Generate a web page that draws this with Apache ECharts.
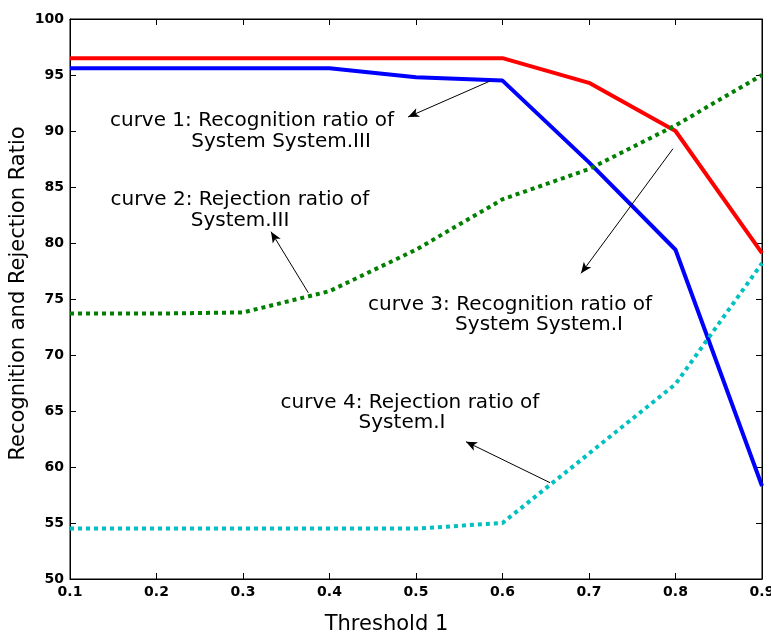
<!DOCTYPE html>
<html>
<head>
<meta charset="utf-8">
<script src="https://cdn.jsdelivr.net/npm/echarts@6/dist/echarts.min.js"></script>
<style>html,body{margin:0;padding:0;background:#fff;}#c{width:771px;height:636px;}</style>
</head>
<body>
<div id="c"></div>
<script>
// Data
const thresholds = [0.1, 0.2, 0.3, 0.4, 0.5, 0.6, 0.7, 0.8, 0.9];
const curve1RecogSysIII = [95.6, 95.6, 95.6, 95.6, 94.8, 94.5, 87.2, 79.4, 58.3];
const curve2RejectSysIII = [73.7, 73.7, 73.8, 75.7, 79.4, 83.9, 86.6, 90.5, 95.0];
const curve3RecogSysI = [96.5, 96.5, 96.5, 96.5, 96.5, 96.5, 94.3, 90.0, 79.1];
const curve4RejectSysI = [54.5, 54.5, 54.5, 54.5, 54.5, 55.0, 61.2, 67.4, 78.2];
const yTicks = [50, 55, 60, 65, 70, 75, 80, 85, 90, 95, 100];
const xTickLabels = ['0.1','0.2','0.3','0.4','0.5','0.6','0.7','0.8','0.9'];

// annotation arrows [from, to] in data coordinates
const arrows = [
  [[0.5856, 94.46], [0.4908, 91.25]],
  [[0.7971, 88.42], [0.6908, 77.29]],
  [[0.3755, 75.56], [0.3324, 81.01]],
  [[0.6549, 58.60], [0.5578, 62.26]]
];

function pairs(ys) { return thresholds.map((x, i) => [x, ys[i]]); }

const chart = echarts.init(document.getElementById('c'), null, {renderer: 'canvas'});
const F = 'DejaVu Sans';
const tickFont = {fontFamily: F, fontWeight: 'bold', fontSize: 14, color: '#000'};
const xMin = thresholds[0], xMax = thresholds[thresholds.length - 1];
const yMin = yTicks[0], yMax = yTicks[yTicks.length - 1];

function txt(t, x, y, size) {
  return {type: 'text', x: x, y: y, style: {text: t, font: (size || 20) + 'px "DejaVu Sans"', fill: '#000', textAlign: 'center', textVerticalAlign: 'middle'}};
}

chart.setOption({
  animation: false,
  backgroundColor: '#fff',
  grid: {left: 70, right: 9, top: 19, bottom: 57, outerBoundsMode: 'none', containLabel: false, show: true, borderColor: '#000', borderWidth: 1, backgroundColor: 'transparent'},
  xAxis: [{
    type: 'value', min: xMin, max: xMax, interval: 0.1, position: 'bottom',
    axisLine: {show: true, lineStyle: {color: '#000', width: 1}},
    axisTick: {show: true, inside: true, length: 6, lineStyle: {color: '#000'}},
    axisLabel: Object.assign({margin: 6, hideOverlap: false, formatter: v => (Math.round(v * 10) / 10).toFixed(1), showMinLabel: true, showMaxLabel: true}, tickFont),
    splitLine: {show: false}
  }, {
    type: 'value', min: xMin, max: xMax, interval: 0.1, position: 'top',
    axisLine: {show: true, lineStyle: {color: '#000', width: 1}},
    axisTick: {show: true, inside: true, length: 6, lineStyle: {color: '#000'}},
    axisLabel: {show: false}, splitLine: {show: false}
  }],
  yAxis: [{
    type: 'value', min: yMin, max: yMax, interval: 5, position: 'left',
    axisLine: {show: true, lineStyle: {color: '#000', width: 1}},
    axisTick: {show: true, inside: true, length: 6, lineStyle: {color: '#000'}},
    axisLabel: Object.assign({margin: 6}, tickFont),
    splitLine: {show: false}
  }, {
    type: 'value', min: yMin, max: yMax, interval: 5, position: 'right',
    axisLine: {show: true, lineStyle: {color: '#000', width: 1}},
    axisTick: {show: true, inside: true, length: 6, lineStyle: {color: '#000'}},
    axisLabel: {show: false}, splitLine: {show: false}
  }],
  series: [
    {name: 'curve 3', type: 'line', data: pairs(curve3RecogSysI), symbol: 'none',
     lineStyle: {color: '#ff0000', width: 4}},
    {name: 'curve 1', type: 'line', data: pairs(curve1RecogSysIII), symbol: 'none',
     lineStyle: {color: '#0000ff', width: 4}},
    {name: 'curve 2', type: 'line', data: pairs(curve2RejectSysIII), symbol: 'none',
     lineStyle: {color: '#008000', width: 4, type: [4, 4]}},
    {name: 'curve 4', type: 'line', data: pairs(curve4RejectSysI), symbol: 'none',
     lineStyle: {color: '#00c0c0', width: 4, type: [4, 4]},
     markLine: {
       silent: true, symbol: ['none', 'arrow'], symbolSize: [7, 11],
       label: {show: false},
       lineStyle: {color: '#000', width: 1, type: 'solid'},
       data: arrows.map(a => [{coord: a[0]}, {coord: a[1]}])
     }}
  ],
  graphic: [
    txt('Threshold 1', 386.5, 625, 21),
    Object.assign(txt('Recognition and Rejection Ratio', 19, 293.5, 21), {rotation: Math.PI / 2}),
    txt('curve 1: Recognition ratio of', 252, 121),
    txt('System System.III', 281, 142),
    txt('curve 2: Rejection ratio of', 240, 200),
    txt('System.III', 240, 221),
    txt('curve 3: Recognition ratio of', 510, 305),
    txt('System System.I', 539, 325),
    txt('curve 4: Rejection ratio of', 410, 403),
    txt('System.I', 402, 423)
  ]
});
</script>
</body>
</html>
